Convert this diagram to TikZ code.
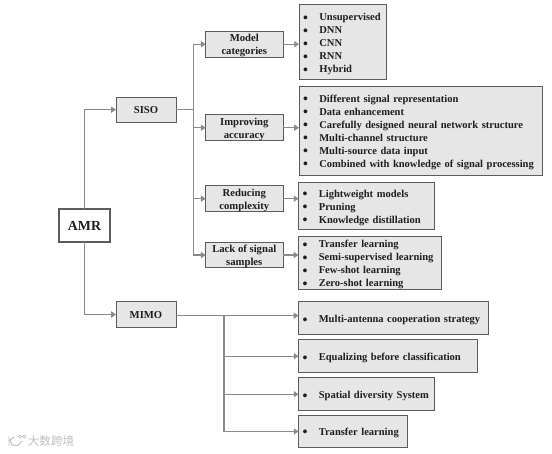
\documentclass[tikz,border=0pt]{standalone}
\usepackage{fontspec}
\setmainfont{Liberation Serif}
\newfontfamily\cjkwm{Noto Sans CJK SC}
\usetikzlibrary{arrows.meta,shadows}
\tikzset{
  x=0.75pt,y=-0.75pt,
  box/.style={draw=boxline,fill=boxfill,line width=0.7pt,inner sep=0pt,outer sep=0pt,anchor=center,align=center,text=txt,font=\fontsize{8}{9.75pt}\selectfont\bfseries},
  listbox/.style={box,align=left,font=\fontsize{7.9}{9.75pt}\selectfont\bfseries},
  rootbox/.style={box,fill=white,line width=1.2pt,font=\fontsize{10.4}{13pt}\selectfont\bfseries,drop shadow={shadow xshift=0.6pt,shadow yshift=-0.6pt,opacity=0.3,fill=gray}},
  link/.style={draw=linkc,line width=0.8pt,-{Triangle[length=3.6pt,width=4.6pt,fill=linkc]}},
  plain/.style={draw=linkc,line width=0.8pt},
}
\definecolor{boxline}{HTML}{5C5C5C}
\definecolor{boxfill}{HTML}{E6E6E6}
\definecolor{linkc}{HTML}{8A8A8A}
\definecolor{txt}{HTML}{1E1E1E}
\newcommand{\itm}[1]{\makebox[12.2pt][l]{\smash{\raisebox{-1.4pt}{\fontsize{10.5}{9.75pt}\selectfont\textbullet}}}#1}
\newcommand{\tlx}{\rule{0pt}{7.7pt}}
\newcommand{\tla}{\rule{0pt}{8.5pt}}
\newcommand{\tlb}{\rule{0pt}{7pt}}
\newcommand{\bx}[6]{\node[listbox,minimum width=#4*0.75pt,minimum height=#5*0.75pt,text width=#4*0.75pt-6pt] (#1) at (#2,#3) {#6};}
\begin{document}
\begin{tikzpicture}
\useasboundingbox (0,0) rectangle (552,453);
\fill[white] (0,0) rectangle (552,453);
% first levels
\node[rootbox,minimum width=38.5pt,minimum height=24.8pt] (amr) at (84.5,225.5) {AMR};
\node[box,minimum width=45pt,minimum height=19pt] (siso) at (146,109.7) {\rule{0pt}{6.5pt}SISO};
\node[box,minimum width=45pt,minimum height=19pt] (mimo) at (146,314.5) {\rule{0pt}{6.5pt}MIMO};
\node[box,minimum width=58pt,minimum height=19pt] (model) at (244.3,44.2) {\tlx Model\\categories};
\node[box,minimum width=58pt,minimum height=19pt] (impr) at (244.3,127.7) {\tlx Improving\\accuracy};
\node[box,minimum width=58pt,minimum height=19pt] (redu) at (244.3,198.7) {\tlx Reducing\\complexity};
\node[box,minimum width=58pt,minimum height=19pt] (lack) at (244.3,255) {\tlx Lack of signal\\samples};
% right lists
\bx{l1}{342.8}{42}{87.5}{75}{\tla\itm{Unsupervised}\\\itm{DNN}\\\itm{CNN}\\\itm{RNN}\\\itm{Hybrid}}
\bx{l2}{420.5}{131}{243}{89}{\tlb\itm{Different signal representation}\\\itm{Data enhancement}\\\itm{Carefully designed neural network structure}\\\itm{Multi-channel structure}\\\itm{Multi-source data input}\\\itm{Combined with knowledge of signal processing}}
\bx{l3}{366.3}{205.5}{135.5}{47}{\tla\itm{Lightweight models}\\\itm{Pruning}\\\itm{Knowledge distillation}}
\bx{l4}{370}{262.5}{143}{53}{\tla\itm{Transfer learning}\\\itm{Semi-supervised learning}\\\itm{Few-shot learning}\\\itm{Zero-shot learning}}
\bx{m1}{393.5}{318.2}{190}{32.5}{\tla\itm{Multi-antenna cooperation strategy}}
\bx{m2}{387.8}{356.2}{178.5}{32.5}{\tla\itm{Equalizing before classification}}
\bx{m3}{366.3}{394.2}{135.5}{32.5}{\tla\itm{Spatial diversity System}}
\bx{m4}{352.8}{431.5}{108.5}{32.5}{\tlb\itm{Transfer learning}}
% connectors
\coordinate (bus) at (193.5,109.7);
\coordinate (mbus) at (224,315.6);
\draw[link] (amr.north) |- (siso.west);
\draw[link] (amr.south) |- (mimo.west);
\draw[plain] (siso.east) -- (bus);
\draw[link] (bus) |- (model.west);
\draw[link] (bus) |- (impr.west);
\draw[link] (bus) |- (redu.west);
\draw[link] (bus) |- (lack.west);
\draw[link] (model.east) -- (model.east -| l1.west);
\draw[link] (impr.east) -- (impr.east -| l2.west);
\draw[link] (redu.east) -- (redu.east -| l3.west);
\draw[link] (lack.east) -- (lack.east -| l4.west);
\draw[link] (mimo.east |- mbus) -- (mbus -| m1.west);
\draw[link] (mbus) |- (m2.west);
\draw[link] (mbus) |- (m3.west);
\draw[link] (mbus) |- (m4.west);
% watermark
\node[text=black!25,font=\cjkwm\fontsize{8.7}{9}\selectfont,inner sep=0pt] (wm) at (51,441.5) {大数跨境};
\draw[black!25,line width=0.7pt] (14,437) -- (10,440) -- (12,445) -- (18,445.5) -- (22,441) (9,436) -- (9,446);
\draw[black!25,line width=0.5pt] (20,436.5) circle (1.7) (24.5,436.5) circle (1.7);
\end{tikzpicture}
\end{document}
